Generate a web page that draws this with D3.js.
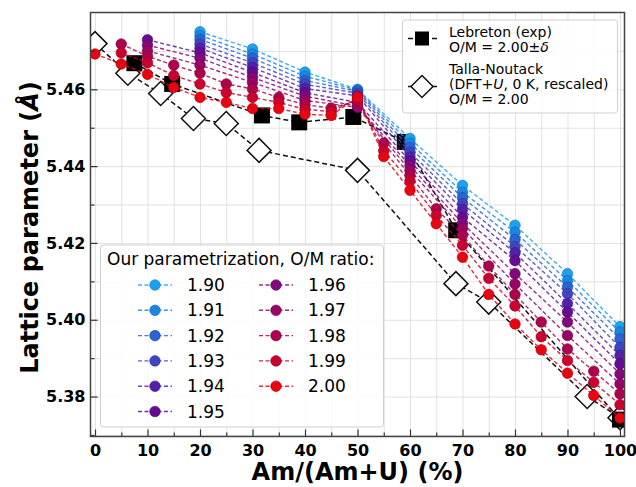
<!DOCTYPE html>
<html>
<head>
<meta charset="UTF-8">
<title>Lattice parameter of (U,Am)O2</title>
<script src="https://d3js.org/d3.v7.min.js"></script>
<style>
  body { margin: 0; background: #fff; }
  svg text { font-family: "DejaVu Sans", sans-serif; fill: #000; }
</style>
</head>
<body>
<div id="chart"></div>
<script>
// Am/(Am+U) in %, one slot per computed composition
var amPct = [0, 5, 10, 15, 20, 25, 30, 35, 40, 45, 50, 55, 60, 65, 70, 75, 80, 85, 90, 95, 100];

// our parametrization, lattice parameter (A) for each O/M ratio (null = not computed)
var lat190 = [null, null, null, null, 5.4750, null, 5.4705, null, 5.4645, null, 5.4600, null, 5.4472, null, 5.4350, null, 5.4246, null, 5.4120, null, 5.3982];
var lat191 = [null, null, null, null, 5.4740, null, 5.4692, null, 5.4634, null, 5.4598, null, 5.4460, null, 5.4332, null, 5.4228, null, 5.4102, null, 5.3968];
var lat192 = [null, null, null, null, 5.4730, null, 5.4681, null, 5.4623, null, 5.4595, null, 5.4448, null, 5.4318, null, 5.4209, null, 5.4085, null, 5.3950];
var lat193 = [null, null, null, null, 5.4718, null, 5.4669, null, 5.4613, null, 5.4590, null, 5.4436, null, 5.4302, null, 5.4191, null, 5.4068, null, 5.3928];
var lat194 = [null, null, null, null, 5.4707, null, 5.4657, null, 5.4602, null, 5.4583, null, 5.4424, null, 5.4287, null, 5.4174, null, 5.4042, null, 5.3907];
var lat195 = [null, null, 5.4729, null, 5.4695, null, 5.4644, null, 5.4591, null, 5.4566, null, 5.4413, null, 5.4267, null, 5.4154, null, 5.4020, null, 5.3885];
var lat196 = [null, null, 5.4715, null, 5.4681, null, 5.4631, null, 5.4582, null, 5.4556, null, 5.4401, null, 5.4251, null, 5.4120, null, 5.3994, null, 5.3859];
var lat197 = [null, null, 5.4700, null, 5.4663, null, 5.4618, null, 5.4571, null, 5.4553, null, 5.4389, null, 5.4238, null, 5.4093, null, 5.3959, null, 5.3833];
var lat198 = [null, 5.4718, 5.4686, 5.4663, 5.4642, 5.4614, 5.4601, 5.4579, 5.4560, 5.4551, 5.4570, 5.4460, 5.4376, 5.4289, 5.4220, 5.4140, 5.4066, 5.3994, 5.3924, 5.3866, 5.3807];
var lat199 = [null, 5.4695, 5.4669, 5.4636, 5.4614, 5.4592, 5.4579, 5.4566, 5.4548, 5.4542, 5.4575, 5.4440, 5.4361, 5.4272, 5.4194, 5.4108, 5.4036, 5.3956, 5.3894, 5.3837, 5.3779];
var lat200 = [5.4692, 5.4666, 5.4639, 5.4605, 5.4579, 5.4566, 5.4550, 5.4550, 5.4535, 5.4532, 5.4580, 5.4425, 5.4337, 5.4250, 5.4163, 5.4066, 5.3989, 5.3922, 5.3861, 5.3803, 5.3744];

var omLabels = ["1.90", "1.91", "1.92", "1.93", "1.94", "1.95", "1.96", "1.97", "1.98", "1.99", "2.00"];
var omColors = ["#1ba1ef", "#1a85e3", "#2a63d2", "#3f45bd", "#5321a8", "#650c92",
                "#800a7b", "#970565", "#ad034c", "#c90230", "#e80410"];
var omSeries = [lat190, lat191, lat192, lat193, lat194, lat195, lat196, lat197, lat198, lat199, lat200];

// Lebreton (exp)
var lebX = [7.5, 14.7, 31.8, 38.9, 49.2, 59.0, 68.8, 100];
var lebY = [5.4668, 5.4614, 5.4532, 5.4514, 5.4528, 5.4463, 5.4233, 5.3740];

// Talla-Noutack (DFT+U, rescaled)
var talX = [0, 6.25, 12.5, 18.75, 25, 31.25, 50, 68.75, 75, 93.75, 100];
var talY = [5.4719, 5.4642, 5.4589, 5.4524, 5.4511, 5.4441, 5.4389, 5.4094, 5.4046, 5.3800, 5.3745];

var xMajor = [0, 10, 20, 30, 40, 50, 60, 70, 80, 90, 100];
var xMinor = [5, 15, 25, 35, 45, 55, 65, 75, 85, 95];
var yMajor = [5.38, 5.40, 5.42, 5.44, 5.46];
var yMinor = [5.37, 5.39, 5.41, 5.43, 5.45, 5.47];

var width = 636, height = 487;
var margin = {top: 12.5, right: 11.5, bottom: 50.5, left: 90.5};
var plotW = width - margin.left - margin.right,
    plotH = height - margin.top - margin.bottom;

var svg = d3.select("#chart").append("svg")
    .attr("width", width)
    .attr("height", height);

var x = d3.scaleLinear().domain([-0.86, 100.86]).range([margin.left, width - margin.right]);
var y = d3.scaleLinear().domain([5.3696, 5.4800]).range([height - margin.bottom, margin.top]);

//grid
svg.append("g")
   .attr("transform", "translate(0," + (height - margin.bottom) + ")")
   .call(d3.axisBottom(x).tickValues(xMajor.concat(xMinor)).tickSize(-plotH).tickFormat(""))
   .call(function(g) { g.select(".domain").remove(); g.selectAll("line").attr("stroke", "#e2e2e2").attr("stroke-width", 1); });
svg.append("g")
   .attr("transform", "translate(" + margin.left + ",0)")
   .call(d3.axisLeft(y).tickValues(yMajor.concat(yMinor)).tickSize(-plotW).tickFormat(""))
   .call(function(g) { g.select(".domain").remove(); g.selectAll("line").attr("stroke", "#e2e2e2").attr("stroke-width", 1); });

svg.append("clipPath").attr("id", "plotclip")
   .append("rect")
   .attr("x", margin.left).attr("y", margin.top)
   .attr("width", plotW).attr("height", plotH);

var plot = svg.append("g").attr("clip-path", "url(#plotclip)");

var line = d3.line()
    .x(function(d) { return x(d[0]); })
    .y(function(d) { return y(d[1]); });

//references
var leb = lebX.map(function(v, i) { return [v, lebY[i]]; });
var tal = talX.map(function(v, i) { return [v, talY[i]]; });

plot.append("path")
    .attr("d", line(tal))
    .attr("fill", "none")
    .attr("stroke", "#111")
    .attr("stroke-width", 1.5)
    .attr("stroke-dasharray", "5,3");
plot.append("path")
    .attr("d", line(leb))
    .attr("fill", "none")
    .attr("stroke", "#111")
    .attr("stroke-width", 1.5)
    .attr("stroke-dasharray", "5,3");

var diamond = "M0,-12L12,0L0,12L-12,0Z";
plot.selectAll(".tal")
    .data(tal)
    .enter()
    .append("path")
    .attr("class", "tal")
    .attr("d", diamond)
    .attr("transform", function(d) { return "translate(" + x(d[0]) + "," + y(d[1]) + ")"; })
    .attr("fill", "#fff")
    .attr("stroke", "#111")
    .attr("stroke-width", 1.5);

plot.selectAll(".leb")
    .data(leb)
    .enter()
    .append("rect")
    .attr("class", "leb")
    .attr("x", function(d) { return x(d[0]) - 8; })
    .attr("y", function(d) { return y(d[1]) - 8; })
    .attr("width", 16)
    .attr("height", 16)
    .attr("fill", "#000");

//our parametrization
omSeries.forEach(function(vals, k) {
  var pts = [];
  vals.forEach(function(v, i) { if (v !== null) pts.push([amPct[i], v]); });
  var g = plot.append("g");
  g.append("path")
   .attr("d", line(pts))
   .attr("fill", "none")
   .attr("stroke", omColors[k])
   .attr("stroke-opacity", 0.85)
   .attr("stroke-width", 1.4)
   .attr("stroke-dasharray", "4,2.5");
  g.selectAll("circle")
   .data(pts)
   .enter()
   .append("circle")
   .attr("cx", function(d) { return x(d[0]); })
   .attr("cy", function(d) { return y(d[1]); })
   .attr("r", 5.3)
   .attr("fill", omColors[k])
   .attr("stroke", d3.color(omColors[k]).darker(0.8))
   .attr("stroke-width", 0.6);
});

//axes
var xAxis = svg.append("g")
   .attr("transform", "translate(0," + (height - margin.bottom) + ")")
   .call(d3.axisBottom(x).tickValues(xMajor).tickSizeInner(-7).tickSizeOuter(0).tickPadding(8));
var xAxisMinor = svg.append("g")
   .attr("transform", "translate(0," + (height - margin.bottom) + ")")
   .call(d3.axisBottom(x).tickValues(xMinor).tickSizeInner(-4).tickSizeOuter(0).tickFormat(""));
var yAxis = svg.append("g")
   .attr("transform", "translate(" + margin.left + ",0)")
   .call(d3.axisLeft(y).tickValues(yMajor).tickSizeInner(-7).tickSizeOuter(0).tickPadding(5).tickFormat(d3.format(".2f")));
var yAxisMinor = svg.append("g")
   .attr("transform", "translate(" + margin.left + ",0)")
   .call(d3.axisLeft(y).tickValues(yMinor).tickSizeInner(-4).tickSizeOuter(0).tickFormat(""));

[xAxis, xAxisMinor, yAxis, yAxisMinor].forEach(function(g) {
  g.select(".domain").remove();
  g.selectAll("line").attr("stroke", "#333").attr("stroke-width", 1.2);
  g.selectAll("text").attr("font-size", 16).attr("font-weight", "bold")
   .attr("font-family", "DejaVu Sans").attr("fill", "#000");
});

svg.append("rect")
   .attr("x", margin.left).attr("y", margin.top)
   .attr("width", plotW).attr("height", plotH)
   .attr("fill", "none")
   .attr("stroke", "#444")
   .attr("stroke-width", 1.5);

//axis titles
svg.append("text")
   .attr("x", margin.left + plotW / 2)
   .attr("y", 480)
   .attr("text-anchor", "middle")
   .attr("font-size", 24)
   .attr("font-weight", "bold")
   .text("Am/(Am+U) (%)");

var yt = svg.append("text")
   .attr("transform", "translate(38," + (margin.top + plotH / 2 + 3) + ") rotate(-90)")
   .attr("text-anchor", "middle")
   .attr("font-size", 24)
   .attr("font-weight", "bold");
yt.append("tspan").text("Lattice parameter (");
yt.append("tspan").attr("font-style", "italic").text("\u00C5");
yt.append("tspan").text(")");

//legend: references
var lg1 = svg.append("g");
lg1.append("rect")
   .attr("x", 402.5).attr("y", 20).attr("width", 215).attr("height", 93)
   .attr("rx", 3)
   .attr("fill", "#fff").attr("fill-opacity", 0.85)
   .attr("stroke", "#cfcfcf");
lg1.append("line")
   .attr("x1", 408).attr("x2", 437).attr("y1", 38.5).attr("y2", 38.5)
   .attr("stroke", "#111").attr("stroke-width", 1.5).attr("stroke-dasharray", "5,3");
lg1.append("rect")
   .attr("x", 415).attr("y", 31.5).attr("width", 14).attr("height", 14).attr("fill", "#000");
lg1.append("line")
   .attr("x1", 408).attr("x2", 437).attr("y1", 86.5).attr("y2", 86.5)
   .attr("stroke", "#111").attr("stroke-width", 1.5).attr("stroke-dasharray", "5,3");
lg1.append("path")
   .attr("d", "M0,-11L11,0L0,11L-11,0Z")
   .attr("transform", "translate(422,86.5)")
   .attr("fill", "#fff").attr("stroke", "#111").attr("stroke-width", 1.5);

function legendText(g, xx, yy, parts) {
  var t = g.append("text").attr("x", xx).attr("y", yy).attr("font-size", 14);
  parts.forEach(function(p) {
    var s = t.append("tspan").text(p[0]);
    if (p[1]) s.attr("font-style", "italic");
  });
}
legendText(lg1, 449, 37, [["Lebreton (exp)"]]);
legendText(lg1, 449, 52, [["O/M = 2.00\u00B1"], ["\u03B4", true]]);
legendText(lg1, 449, 73.5, [["Talla-Noutack"]]);
legendText(lg1, 449, 89, [["(DFT+"], ["U", true], [", 0 K, rescaled)"]]);
legendText(lg1, 449, 104, [["O/M = 2.00"]]);

//legend: O/M ratios
var lg2 = svg.append("g");
lg2.append("rect")
   .attr("x", 100.5).attr("y", 245).attr("width", 283).attr("height", 182)
   .attr("rx", 3)
   .attr("fill", "#fff").attr("fill-opacity", 0.85)
   .attr("stroke", "#cfcfcf");
lg2.append("text")
   .attr("x", 107).attr("y", 265)
   .attr("font-size", 17)
   .text("Our parametrization, O/M ratio:");

omLabels.forEach(function(lab, k) {
  var col = k < 6 ? 0 : 1,
      row = k < 6 ? k : k - 6;
  var cx = col === 0 ? 155 : 276,
      cy = 285 + row * 25.3;
  lg2.append("line")
     .attr("x1", cx - 17).attr("x2", cx + 17).attr("y1", cy).attr("y2", cy)
     .attr("stroke", omColors[k]).attr("stroke-opacity", 0.85)
     .attr("stroke-width", 1.4).attr("stroke-dasharray", "4,2.5");
  lg2.append("circle")
     .attr("cx", cx).attr("cy", cy).attr("r", 5.3)
     .attr("fill", omColors[k])
     .attr("stroke", d3.color(omColors[k]).darker(0.8)).attr("stroke-width", 0.6);
  lg2.append("text")
     .attr("x", cx + 32).attr("y", cy + 6)
     .attr("font-size", 17)
     .text(lab);
});
</script>
</body>
</html>
